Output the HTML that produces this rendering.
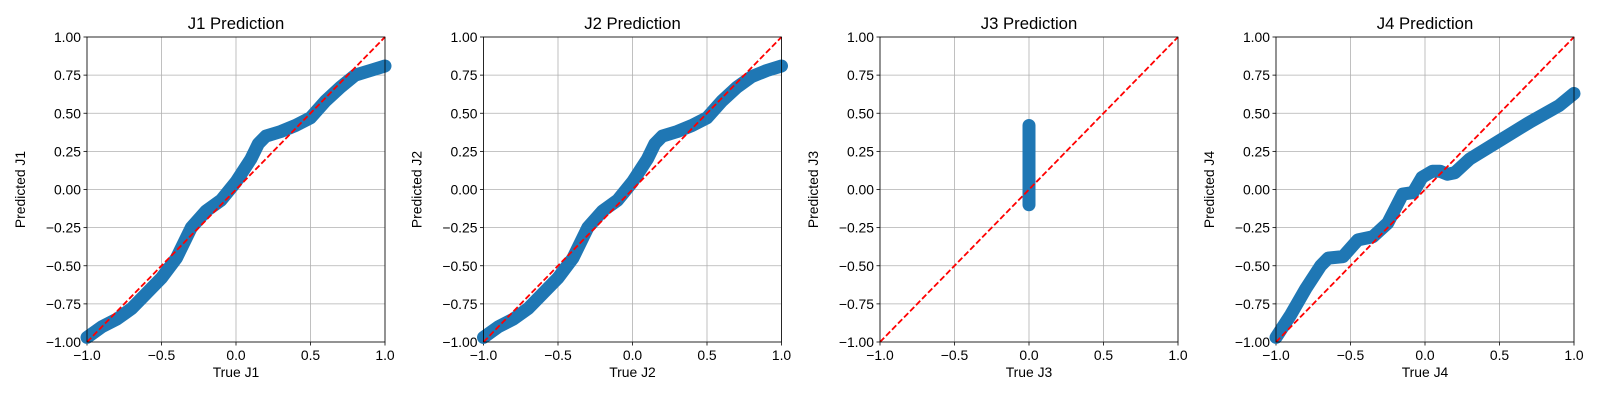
<!DOCTYPE html>
<html><head><meta charset="utf-8"><style>
body{margin:0;background:#fff;}
svg text{font-family:"Liberation Sans","DejaVu Sans",sans-serif;}
</style></head><body>
<svg id="fig" width="1600" height="400" xmlns="http://www.w3.org/2000/svg"></svg>
<script>
const titles=["J1 Prediction","J2 Prediction","J3 Prediction","J4 Prediction"];
const xLabels=["True J1","True J2","True J3","True J4"];
const yLabels=["Predicted J1","Predicted J2","Predicted J3","Predicted J4"];
const xTicks=[-1,-0.5,0,0.5,1];
const xTickLabels=["\u22121.0","\u22120.5","0.0","0.5","1.0"];
const yTicks=[-1,-0.75,-0.5,-0.25,0,0.25,0.5,0.75,1];
const yTickLabels=["\u22121.00","\u22120.75","\u22120.50","\u22120.25","0.00","0.25","0.50","0.75","1.00"];
const j1X=[-1,-0.9,-0.8,-0.7,-0.6,-0.5,-0.4,-0.3,-0.2,-0.1,0,0.1,0.15,0.2,0.3,0.4,0.5,0.6,0.7,0.8,0.9,1.0];
const j1Y=[-0.97,-0.9,-0.85,-0.78,-0.68,-0.58,-0.45,-0.25,-0.14,-0.07,0.05,0.2,0.3,0.35,0.38,0.42,0.47,0.58,0.67,0.75,0.78,0.81];
const j2X=[-1,-0.9,-0.8,-0.7,-0.6,-0.5,-0.4,-0.3,-0.2,-0.1,0,0.1,0.15,0.2,0.3,0.4,0.5,0.6,0.7,0.8,0.9,1.0];
const j2Y=[-0.97,-0.9,-0.85,-0.78,-0.68,-0.58,-0.45,-0.25,-0.14,-0.07,0.05,0.2,0.3,0.35,0.38,0.42,0.47,0.58,0.67,0.74,0.78,0.81];
const j3X=[0,0];
const j3Y=[-0.1,0.42];
const j4X=[-1,-0.9,-0.8,-0.7,-0.65,-0.55,-0.45,-0.35,-0.25,-0.15,-0.08,-0.02,0.05,0.1,0.15,0.2,0.3,0.5,0.7,0.9,1.0];
const j4Y=[-0.97,-0.82,-0.65,-0.5,-0.45,-0.44,-0.33,-0.31,-0.22,-0.03,-0.02,0.08,0.12,0.12,0.1,0.11,0.2,0.32,0.44,0.55,0.63];
const seriesX=[j1X,j2X,j3X,j4X];
const seriesY=[j1Y,j2Y,j3Y,j4Y];

const NS="http://www.w3.org/2000/svg";
const svg=document.getElementById('fig');
function el(tag,attrs,parent){const e=document.createElementNS(NS,tag);for(const k in attrs)e.setAttribute(k,attrs[k]);(parent||svg).appendChild(e);return e;}
const W=298,H=305,top0=37,lefts=[87,483.5,880,1276];
for(let p=0;p<4;p++){
  const L=lefts[p];
  const sx=v=>L+(v+1)/2*W, sy=v=>top0+H-(v+1)/2*H;
  const g=el('g',{});
  
  
  for(let i=0;i<xTicks.length;i++){
    const x=sx(xTicks[i]);
    const gl=el('line',{x1:x,x2:x,y1:top0,y2:top0+H,stroke:'#b0b0b0','stroke-width':0.8},g);
    
    
    el('line',{x1:x,x2:x,y1:top0+H,y2:top0+H+3.5,stroke:'#000','stroke-width':0.8},g);
    const t=el('text',{x:x,y:top0+H+18,'text-anchor':'middle','font-size':13.9,fill:'#000'},g);
    t.textContent=xTickLabels[i];
    
    
  }
  for(let i=0;i<yTicks.length;i++){
    const y=sy(yTicks[i]);
    const gl=el('line',{x1:L,x2:L+W,y1:y,y2:y,stroke:'#b0b0b0','stroke-width':0.8},g);
    
    
    el('line',{x1:L-3.5,x2:L,y1:y,y2:y,stroke:'#000','stroke-width':0.8},g);
    const t=el('text',{x:L-6,y:y+5,'text-anchor':'end','font-size':13.9,fill:'#000'},g);
    t.textContent=yTickLabels[i];
    
    
  }
  const xs=seriesX[p], ys=seriesY[p];
  const pts=xs.map((v,i)=>sx(v)+','+sy(ys[i])).join(' ');
  const s=el('polyline',{points:pts,fill:'none',stroke:'#1f77b4','stroke-width':13,'stroke-linejoin':'round','stroke-linecap':'round'},g);
  
  
  const d=el('line',{x1:sx(-1),y1:sy(-1),x2:sx(1),y2:sy(1),stroke:'#ff0000','stroke-width':1.8,'stroke-dasharray':'6 2.6'},g);
  
  
  const fr=el('rect',{x:L,y:top0,width:W,height:H,fill:'none',stroke:'#000','stroke-width':0.8},g);
  
  
  const tt=el('text',{x:L+W/2,y:top0-8,'text-anchor':'middle','font-size':16.7,fill:'#000'},g);
  tt.textContent=titles[p];
  
  
  const xl=el('text',{x:L+W/2,y:top0+H+35,'text-anchor':'middle','font-size':13.9,fill:'#000'},g);
  xl.textContent=xLabels[p];
  
  
  const yx=L-62, yy=top0+H/2;
  const yl=el('text',{x:yx,y:yy,'text-anchor':'middle','font-size':13.9,fill:'#000',transform:`rotate(-90 ${yx} ${yy})`},g);
  yl.textContent=yLabels[p];
  
  
}
</script>
</body></html>
